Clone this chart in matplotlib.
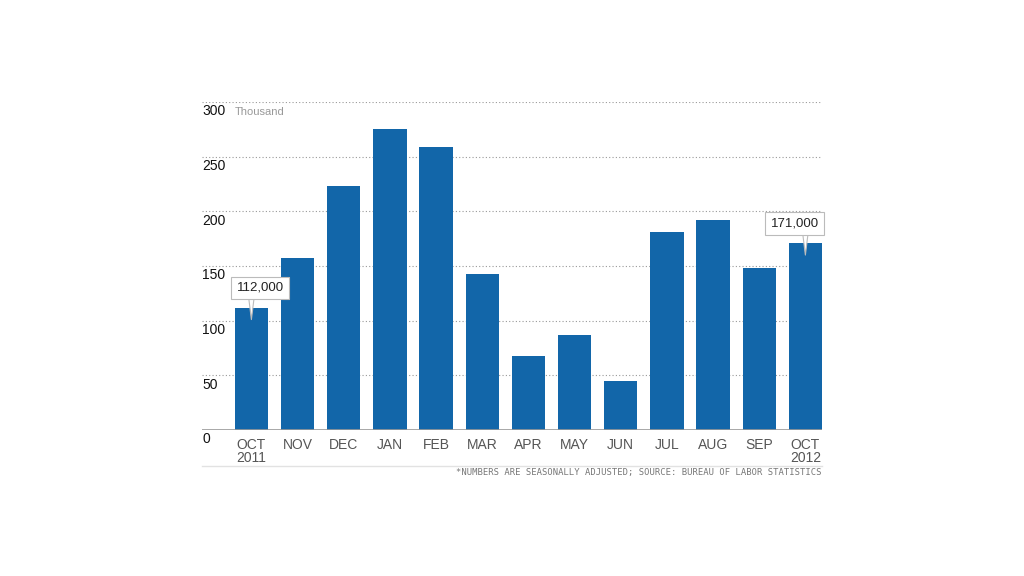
import matplotlib.pyplot as plt

plt.rcParams['font.family'] = ['Liberation Sans', 'DejaVu Sans']

# monthly job gains, thousands
months = ["OCT\n2011", "NOV", "DEC", "JAN", "FEB", "MAR", "APR",
          "MAY", "JUN", "JUL", "AUG", "SEP", "OCT\n2012"]
jobs = [112, 157, 223, 275, 259, 143, 68, 87, 45, 181, 192, 148, 171]
yticks = [0, 50, 100, 150, 200, 250, 300]
# index -> (label, box x offset in bar widths)
callouts = {0: ("112,000", 0.19), 12: ("171,000", -0.23)}

bar_blue = "#1266a9"
grid_grey = "#999999"

fig = plt.figure(figsize=(10.24, 5.76), dpi=100)
ax = fig.add_axes((202 / 1024, 146 / 576, 620 / 1024, 328 / 576))

x = list(range(len(months)))
ax.bar(x, jobs, width=0.72, color=bar_blue, zorder=2)

ax.set_xlim(-1.07, 12.36)
ax.set_ylim(0, 300)

# dotted gridlines, drawn across the whole plot width
for t in yticks[1:]:
    ax.axhline(t, color=grid_grey, lw=0.8, ls=(0, (1, 2)), zorder=1)
ax.axhline(0, color="#999999", lw=1.2, zorder=3)

# y labels sit just under each gridline, left aligned
for t in yticks:
    ax.text(-1.06, t - 2, str(t), ha="left", va="top", fontsize=10,
            color="#111111")
ax.text(-0.36, 295, "Thousand", ha="left", va="top", fontsize=8,
        color="#999999")

ax.set_yticks([])
ax.set_xticks(x)
ax.set_xticklabels(months, fontsize=10, color="#555555", linespacing=0.9)
ax.tick_params(axis="x", length=0, pad=6)
for s in ax.spines.values():
    s.set_visible(False)

# value callouts: vertical pointer at the bar centre, box slightly offset
for i, (label, dx) in callouts.items():
    ax.annotate("", xy=(x[i], jobs[i] - 11), xytext=(x[i], jobs[i] + 12),
                zorder=5,
                arrowprops=dict(arrowstyle="wedge,tail_width=0.45,shrink_factor=0.5",
                                fc="white", ec="#bbbbbb", lw=0.8,
                                shrinkA=0, shrinkB=0))
    ax.text(x[i] + dx, jobs[i] + 18, label, ha="center", va="center",
            fontsize=9.5, color="#222222", zorder=6,
            bbox=dict(boxstyle="square,pad=0.4", fc="white", ec="#bbbbbb", lw=0.8))

# separator line and footnote
fig.add_artist(plt.Line2D([202 / 1024, 822 / 1024], [110 / 576, 110 / 576],
                          color="#e2e2e2", lw=1.0))
fig.text(822 / 1024, 104 / 576,
         "*NUMBERS ARE SEASONALLY ADJUSTED; SOURCE: BUREAU OF LABOR STATISTICS",
         ha="right", va="center", fontsize=6.4, color="#777777",
         fontfamily="DejaVu Sans Mono")

fig.savefig("out.png", dpi=100)
